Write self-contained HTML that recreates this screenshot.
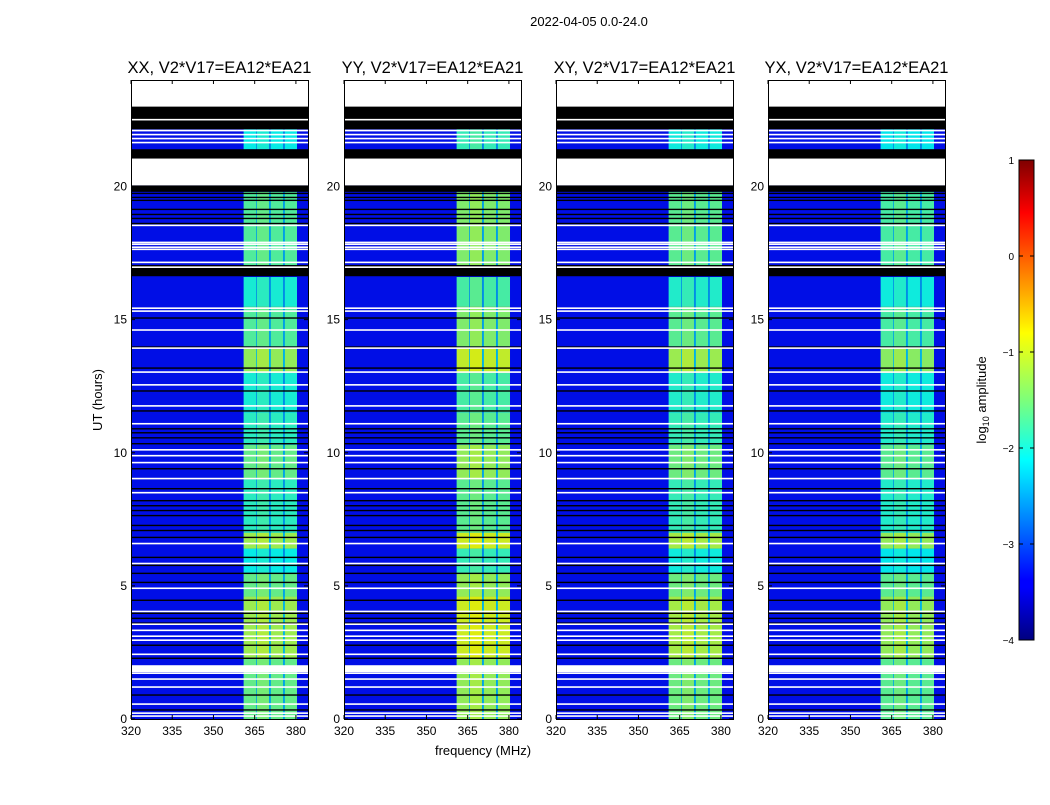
<!DOCTYPE html>
<html><head><meta charset="utf-8"><style>
body{margin:0;background:#fff;font-family:"Liberation Sans",sans-serif}
svg text{font-family:"Liberation Sans",sans-serif}
</style></head><body>
<svg id="fig" width="1050" height="800" xmlns="http://www.w3.org/2000/svg">
<defs><linearGradient id="jet" x1="0" y1="1" x2="0" y2="0">
<stop offset="0" stop-color="#00007f"/><stop offset="0.11" stop-color="#0000ff"/><stop offset="0.125" stop-color="#0000ff"/><stop offset="0.34" stop-color="#00ddff"/><stop offset="0.375" stop-color="#00ffff"/><stop offset="0.5" stop-color="#7dff7a"/><stop offset="0.64" stop-color="#ffff00"/><stop offset="0.66" stop-color="#ffea00"/><stop offset="0.89" stop-color="#ff0000"/><stop offset="1" stop-color="#7f0000"/></linearGradient></defs>
<text x="589" y="26" font-size="13" text-anchor="middle">2022-04-05 0.0-24.0</text>
<text transform="translate(102,400) rotate(-90)" font-size="13" text-anchor="middle">UT (hours)</text>
<text x="483" y="755" font-size="13" text-anchor="middle">frequency (MHz)</text>
<g id="panels"></g>
<g>
<rect x="1019" y="160" width="15" height="480" fill="url(#jet)" stroke="#000" stroke-width="1"/>
<text transform="translate(986,400) rotate(-90)" font-size="13" text-anchor="middle">log<tspan font-size="9" dy="3">10</tspan><tspan dy="-3"> amplitude</tspan></text>
<g id="cbticks"></g>
</g>
</svg>
<script>
const panelTitles=["XX, V2*V17=EA12*EA21","YY, V2*V17=EA12*EA21","XY, V2*V17=EA12*EA21","YX, V2*V17=EA12*EA21"];
const panelLeft=[131,344,556,768];
const panelOffset=[0,0.25,0.05,-0.05];
const bgLevel=-3.3;
const gapLevel=-2.6;
const bandStartMHz=[361,365.8,370.9,376];
const bandEndMHz=[365.5,370.2,375.3,380.4];
const segStart=[0,2.3,4.6,5.5,6.4,7.0,9.0,10.3,11.5,13.0,14.0,15.5,17.0,21.4];
const segEnd=[2.3,4.6,5.5,6.4,7.0,9.0,10.3,11.5,13.0,14.0,15.5,16.6,19.8,22.15];
const segLevel=[-1.6,-1.3,-1.6,-2.1,-1.3,-1.9,-1.6,-1.9,-2.0,-1.35,-1.7,-2.0,-1.7,-2.1];
const whiteBlockStart=[23.0,20.04,1.76];
const whiteBlockEnd=[24.0,21.08,2.02];
const blackBlockStart=[22.15,21.05,19.8,16.63];
const blackBlockEnd=[23.0,21.4,20.04,17.05];
const whiteLines=[22.51,22.1,21.95,21.8,21.65,18.54,17.9,17.83,17.72,17.64,17.15,16.97,15.43,15.32,14.61,13.93,13.03,12.55,11.76,11.09,10.11,9.89,9.63,9.03,8.5,6.59,5.84,4.91,4.04,3.56,3.33,3.11,2.96,2.43,1.72,1.5,1.2,0.56,0.22,0.11];
const blackLines=[19.74,19.59,19.48,19.14,18.95,18.8,18.61,15.06,13.97,13.18,12.32,11.57,10.9,10.75,10.56,10.34,9.4,8.65,8.2,8.01,7.83,7.64,7.27,7.08,6.82,6.07,5.77,5.47,5.13,4.46,3.97,3.78,3.6,2.77,2.28,0.9,0.34];
const xTicks=[320,335,350,365,380];
const yTicks=[0,5,10,15,20];
const cbTicks=[1,0,-1,-2,-3,-4];

const PW=177,TOP=80,BOT=719,F0=320,F1=384.4,H1=24;
function jet(v,dim){let t=Math.max(0,Math.min(1,(v+4)/5));const k=dim||1;const c=x=>Math.round(255*k*Math.max(0,Math.min(1,x)));
return `rgb(${c(1.5-Math.abs(4*t-3))},${c(1.5-Math.abs(4*t-2))},${c(1.5-Math.abs(4*t-1))})`;}
const yS=h=>BOT-(BOT-TOP)*h/H1;
const NS="http://www.w3.org/2000/svg";
function mk(tag,attrs,parent){const e=document.createElementNS(NS,tag);for(const k in attrs)e.setAttribute(k,attrs[k]);parent.appendChild(e);return e;}
const root=document.getElementById('panels');
panelLeft.forEach((L,p)=>{
  const xS=f=>L+PW*(f-F0)/(F1-F0);
  const g=mk('g',{},root);
  
  
  const bg=mk('rect',{x:L,y:yS(22.15),width:PW,height:yS(0)-yS(22.15),fill:jet(bgLevel,0.9)},g);
  
  
  segStart.forEach((s,i)=>{
    const y0=yS(segEnd[i]),h=yS(s)-y0;
    const gp=mk('rect',{x:xS(bandStartMHz[0]),y:y0,width:xS(bandEndMHz[3])-xS(bandStartMHz[0]),height:h,fill:jet(gapLevel+(segLevel[i]+2)*0.3,0.9)},g);
    
    
    bandStartMHz.forEach((b,j)=>{
      const r=mk('rect',{x:xS(b),y:y0,width:xS(bandEndMHz[j])-xS(b),height:h,fill:jet(segLevel[i]+panelOffset[p]+(j==1?0.1:0),0.92)},g);
      
      
    });
  });
  whiteBlockStart.forEach((s,i)=>{const r=mk('rect',{x:L,y:yS(whiteBlockEnd[i]),width:PW,height:yS(s)-yS(whiteBlockEnd[i]),fill:'#fff'},g);
    });
  blackBlockStart.forEach((s,i)=>{const r=mk('rect',{x:L,y:yS(blackBlockEnd[i]),width:PW,height:yS(s)-yS(blackBlockEnd[i]),fill:'#000'},g);
    });
  blackLines.forEach(h=>{const r=mk('rect',{x:L,y:yS(h)-0.7,width:PW,height:1.4,fill:'#000'},g);
    });
  whiteLines.forEach(h=>{const r=mk('rect',{x:L,y:yS(h)-0.8,width:PW,height:1.6,fill:'#fff'},g);
    });
  const fr=mk('rect',{x:L+0.5,y:TOP+0.5,width:PW,height:BOT-TOP,fill:'none',stroke:'#000','stroke-width':1},g);
  
  const t=mk('text',{x:L+PW/2,y:73,'font-size':16.5,'text-anchor':'middle'},g);t.textContent=panelTitles[p];
  
  xTicks.forEach(v=>{const x=xS(v);
    mk('line',{x1:x,x2:x,y1:BOT,y2:BOT-4,stroke:'#000'},g);mk('line',{x1:x,x2:x,y1:TOP,y2:TOP+4,stroke:'#000'},g);
    const tl=mk('text',{x:x,y:BOT+16,'font-size':12,'text-anchor':'middle'},g);tl.textContent=v;
    });
  yTicks.forEach(v=>{const y=yS(v);
    mk('line',{x1:L,x2:L+4,y1:y,y2:y,stroke:'#000'},g);mk('line',{x1:L+PW,x2:L+PW-4,y1:y,y2:y,stroke:'#000'},g);
    const tl=mk('text',{x:L-4,y:y+4,'font-size':12,'text-anchor':'end'},g);tl.textContent=v;
    });
});
const cb=document.getElementById('cbticks');
cbTicks.forEach(v=>{const y=160+480*(1-v)/5;
  mk('line',{x1:1019,x2:1023,y1:y,y2:y,stroke:'#000'},cb);mk('line',{x1:1034,x2:1030,y1:y,y2:y,stroke:'#000'},cb);
  const t=mk('text',{x:1014,y:y+4,'font-size':10,'text-anchor':'end'},cb);t.textContent=v<0?'\u2212'+(-v):v;
  });
</script>
</body></html>
